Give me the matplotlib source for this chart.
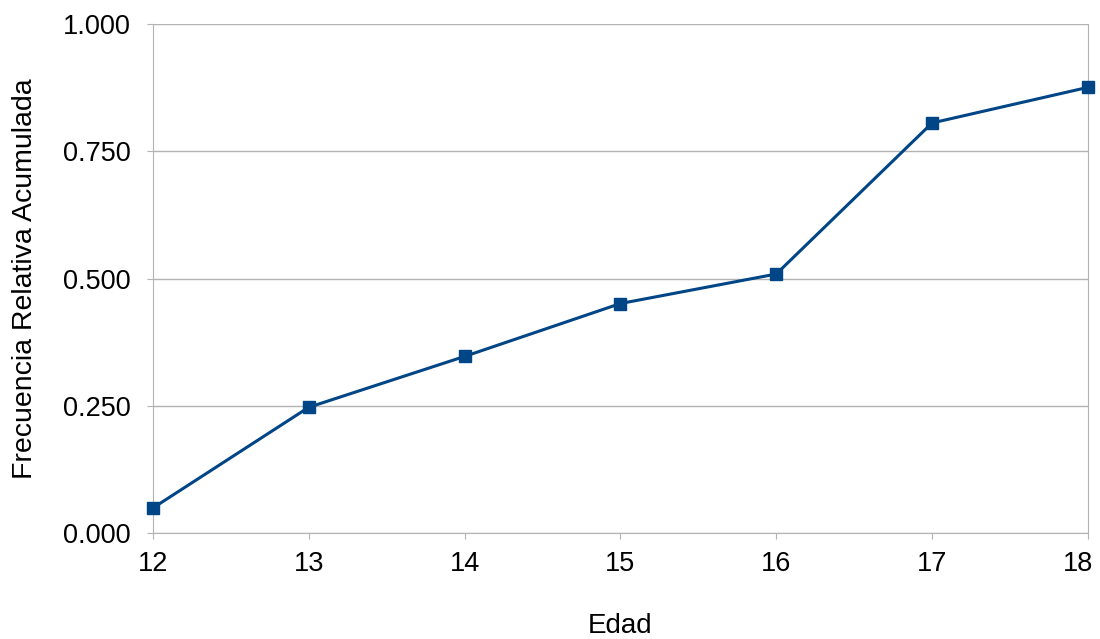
import matplotlib
matplotlib.use('Agg')
import matplotlib.pyplot as plt
import matplotlib.transforms as mtransforms

edad = [12, 13, 14, 15, 16, 17, 18]
frec_acum = [0.049, 0.247, 0.347, 0.451, 0.509, 0.806, 0.876]
yticks = [0.0, 0.25, 0.5, 0.75, 1.0]
ytick_labels = ['0.000', '0.250', '0.500', '0.750', '1.000']

plt.rcParams['font.family'] = ['Liberation Sans', 'DejaVu Sans']

fig = plt.figure(figsize=(11, 6.39), dpi=100)
ax = fig.add_axes([0.139, 0.166, 0.850, 0.796])

ax.plot(edad, frec_acum, color='#004586', linewidth=2.2, marker='s', markersize=8, clip_on=False, zorder=3)

ax.set_xlim(12, 18)
ax.set_ylim(0, 1)
ax.set_xticks(edad)
ax.set_yticks(yticks)
ax.set_yticklabels(ytick_labels)
ax.grid(axis='y', color='#b3b3b3', linewidth=1)
ax.set_axisbelow(True)
for s in ax.spines.values():
    s.set_color('#b3b3b3')
ax.spines['top'].set_visible(False)
ax.tick_params(axis='both', colors='#b3b3b3', labelcolor='black', labelsize=19.5, length=4)
ax.tick_params(axis='y', pad=12)
ax.tick_params(axis='x', pad=9)

# ultimo rotulo del eje x se corre a la izquierda para que no se corte
last = ax.get_xticklabels()[-1]
last.set_transform(last.get_transform() + mtransforms.ScaledTranslation(-10 / 100, 0, fig.dpi_scale_trans))

ax.set_xlabel('Edad', fontsize=20, labelpad=26)
ax.set_ylabel('Frecuencia Relativa Acumulada', fontsize=20.5, labelpad=18)

fig.savefig('out.png', dpi=100)
